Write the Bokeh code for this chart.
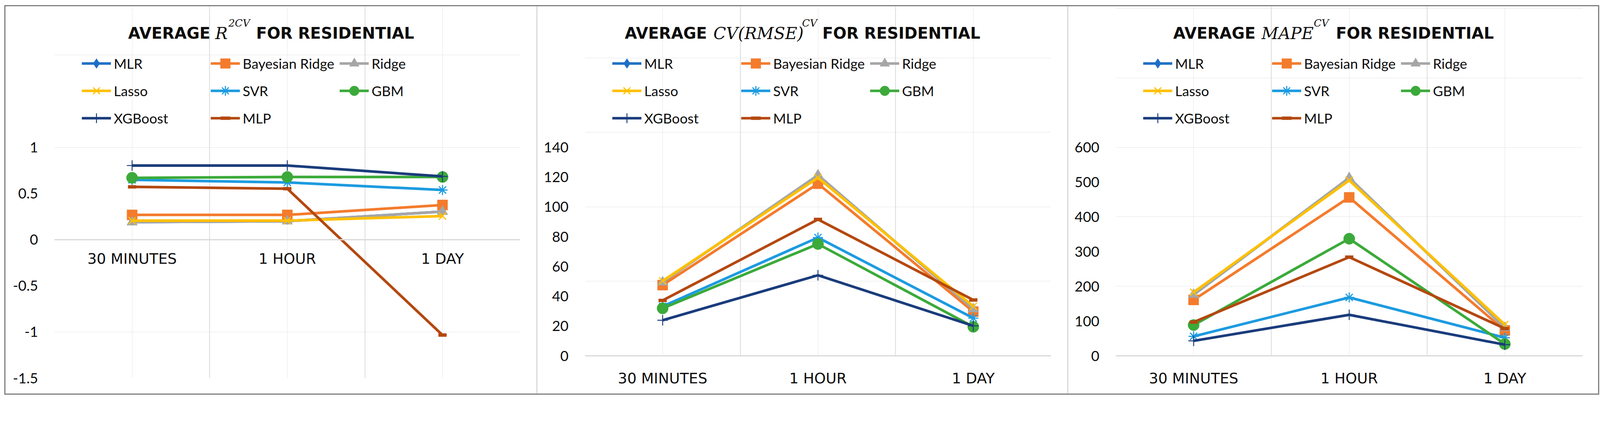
from bokeh.plotting import figure
from bokeh.models import (Range1d, FixedTicker, LinearAxis, Grid, Legend, LegendItem,
                          Label, Spacer)
from bokeh.layouts import row, column
from bokeh.core.properties import value
from bokeh.embed import file_html
from bokeh.resources import INLINE

# ---------------- data ----------------
categories = ["30 MINUTES", "1 HOUR", "1 DAY"]
models = ["MLR", "Bayesian Ridge", "Ridge", "Lasso", "SVR", "GBM", "XGBoost", "MLP"]

r2_mlr = [0.19, 0.20, 0.304]
r2_bayes = [0.268, 0.268, 0.375]
r2_ridge = [0.19, 0.20, 0.304]
r2_lasso = [0.206, 0.206, 0.256]
r2_svr = [0.648, 0.62, 0.538]
r2_gbm = [0.670, 0.679, 0.679]
r2_xgb = [0.803, 0.803, 0.685]
r2_mlp = [0.572, 0.552, -1.034]

cv_mlr = [49.4, 121.3, 31.4]
cv_bayes = [47.5, 115.6, 29.7]
cv_ridge = [49.4, 121.3, 31.4]
cv_lasso = [50.3, 119.6, 33.2]
cv_svr = [33.2, 79.4, 25.3]
cv_gbm = [31.9, 75.1, 19.5]
cv_xgb = [23.9, 54.1, 20.1]
cv_mlp = [37.2, 91.6, 37.5]

mape_mlr = [176, 512, 81]
mape_bayes = [161, 456, 73]
mape_ridge = [176, 512, 81]
mape_lasso = [183, 505, 90]
mape_svr = [56, 168, 52]
mape_gbm = [88.5, 337, 34]
mape_xgb = [43, 118, 32]
mape_mlp = [97, 284, 78.5]

r2_ticks = [-1.5, -1, -0.5, 0, 0.5, 1]
r2_tick_labels = ["-1.5", "-1", "-0.5", "0", "0.5", "1"]
cv_ticks = [0, 20, 40, 60, 80, 100, 120, 140]
cv_tick_labels = ["0", "20", "40", "60", "80", "100", "120", "140"]
mape_ticks = [0, 100, 200, 300, 400, 500, 600]
mape_tick_labels = ["0", "100", "200", "300", "400", "500", "600"]

# ---------------- styles ----------------
K = 1 / 1.04   # the photographed page comes out ~4% enlarged; design in picture px


def px(v):
    return v * K


def ipx(v):
    return int(round(v * K))


def fs(v):
    return "%.1fpx" % (v * K)


colors = ["#1F6FC6", "#F47B2C", "#A6A6A6", "#FFC000", "#1C9BE0", "#3BAA3A", "#1A3C7C", "#B4480F"]
markers = ["diamond", "square", "triangle", "x", "asterisk", "circle", "cross", "dash"]
msizes = [18, 27, 28, 27, 27, 30, 28, 22]
mlw = [1, 1, 1, 3, 3, 1, 2.5, 9]
TXT = "#0d0d0d"
GRID = "#d9d9d9"
H = 1031            # panel height (picture px)
PLOT_TOP = 375      # panel y of the top of the value axis


def make_panel(width, left, right, bottom, series, yr, yticks, ylabels, axis_at_zero, title_parts):
    ymin, ymax = yr
    Hc = ipx(H)
    frame_bottom = Hc - ipx(bottom)
    plot_top = px(PLOT_TOP)
    plot_h = frame_bottom - plot_top
    y_hi = ymax + plot_top * (ymax - ymin) / plot_h   # header space inside the frame
    p = figure(width=ipx(width), height=Hc, x_range=Range1d(0, len(categories)),
               y_range=Range1d(ymin, y_hi), output_backend="svg", toolbar_location=None,
               x_axis_location=None, y_axis_location=None,
               min_border_left=ipx(left), min_border_right=ipx(right),
               min_border_top=0, min_border_bottom=ipx(bottom))
    p.frame_align = False
    p.outline_line_color = None
    p.background_fill_color = "white"
    p.border_fill_color = "white"

    xs = [i + 0.5 for i in range(len(categories))]

    grid = Grid(dimension=0, ticker=FixedTicker(ticks=list(range(len(categories) + 1))),
                grid_line_color=GRID, grid_line_width=px(2), bounds=(ymin, ymax))
    p.add_layout(grid)

    axis_style = dict(axis_line_color=GRID, axis_line_width=px(3),
                      major_tick_line_color=None, minor_tick_line_color=None)
    if axis_at_zero:
        xa = LinearAxis(ticker=FixedTicker(ticks=[]), fixed_location=0, **axis_style)
        p.add_layout(xa, "below")
        p.text(x=xs, y=[0] * len(xs), text=categories, text_font=value("DejaVu Sans"),
               text_font_size=fs(39), text_color=TXT, text_align="center",
               text_baseline="middle", y_offset=px(51))
    else:
        xa = LinearAxis(ticker=FixedTicker(ticks=xs),
                        major_label_overrides={x: c for x, c in zip(xs, categories)},
                        major_label_standoff=ipx(30),
                        major_label_text_font="DejaVu Sans",
                        major_label_text_font_size=fs(39),
                        major_label_text_color=TXT, **axis_style)
        p.add_layout(xa, "below")

    ya = LinearAxis(ticker=FixedTicker(ticks=yticks),
                    major_label_overrides={t: l for t, l in zip(yticks, ylabels)},
                    axis_line_color=None, major_tick_line_color=None,
                    minor_tick_line_color=None, major_label_standoff=ipx(37),
                    major_label_text_font="Lato", major_label_text_font_size=fs(38),
                    major_label_text_color=TXT)
    p.add_layout(ya, "left")

    items = []
    for name, vals, c, m, s, lw in zip(models, series, colors, markers, msizes, mlw):
        rl = p.line(xs, vals, line_color=c, line_width=px(7))
        rm = p.scatter(xs, vals, marker=m, size=px(s), fill_color=c, line_color=c,
                       line_width=px(lw))
        items.append(LegendItem(label=name, renderers=[rl, rm]))

    glyph_h, gap = ipx(65), ipx(8)
    legend_h = 3 * glyph_h + 2 * gap
    legend_top = px(120)
    legend = Legend(items=items, location=(px(73), frame_bottom - (legend_top + legend_h)),
                    orientation="horizontal", ncols=3, padding=0, margin=0, spacing=gap,
                    glyph_width=ipx(78), glyph_height=glyph_h, label_standoff=ipx(7),
                    label_width=ipx(250),
                    label_text_font="Lato", label_text_font_size=fs(37),
                    label_text_color=TXT, border_line_color=None,
                    background_fill_alpha=0)
    p.add_layout(legend)

    for (txt, x, cy, font, style, size) in title_parts:
        p.add_layout(Label(x=px(x), y=frame_bottom - px(cy), x_units="screen", y_units="screen",
                           text=txt, text_font=font, text_font_style=style,
                           text_font_size=fs(size), text_color=TXT,
                           text_baseline="alphabetic", text_align="left"))
    return p


BOLD = ("DejaVu Sans", "bold", 42)
MATH = ("DejaVu Serif", "italic", 44)
SUP = ("DejaVu Serif", "italic", 27)
p1 = make_panel(1413, 130, 44, 42,
                [r2_mlr, r2_bayes, r2_ridge, r2_lasso, r2_svr, r2_gbm, r2_xgb, r2_mlp],
                (-1.5, 1), r2_ticks, r2_tick_labels, True,
                [("AVERAGE", 196, 71) + BOLD,
                 ("R", 428, 72) + MATH,
                 ("2CV", 463, 44) + SUP,
                 ("FOR RESIDENTIAL", 537, 71) + BOLD])
p2 = make_panel(1410, 126, 44, 101,
                [cv_mlr, cv_bayes, cv_ridge, cv_lasso, cv_svr, cv_gbm, cv_xgb, cv_mlp],
                (0, 140), cv_ticks, cv_tick_labels, False,
                [("AVERAGE", 106, 71) + BOLD,
                 ("CV(RMSE)", 342, 72) + MATH,
                 ("CV", 578, 44) + SUP,
                 ("FOR RESIDENTIAL", 632, 71) + BOLD])
p3 = make_panel(1410, 126, 42, 101,
                [mape_mlr, mape_bayes, mape_ridge, mape_lasso, mape_svr, mape_gbm, mape_xgb, mape_mlp],
                (0, 600), mape_ticks, mape_tick_labels, False,
                [("AVERAGE", 153, 71) + BOLD,
                 ("MAPE", 388, 72) + MATH,
                 ("CV", 527, 44) + SUP,
                 ("FOR RESIDENTIAL", 586, 71) + BOLD])

Hc = ipx(H)
sep1 = Spacer(width=3, height=Hc, styles={"background-color": GRID})
sep2 = Spacer(width=3, height=Hc, styles={"background-color": GRID})

boxed = row(p1, sep1, p2, sep2, p3, styles={"border": "3px solid #7f7f7f"})
layout = column(Spacer(height=ipx(22) - 8),
                row(Spacer(width=ipx(20) - 8, height=Hc), boxed))

open("out.html", "w").write(file_html(layout, INLINE))
